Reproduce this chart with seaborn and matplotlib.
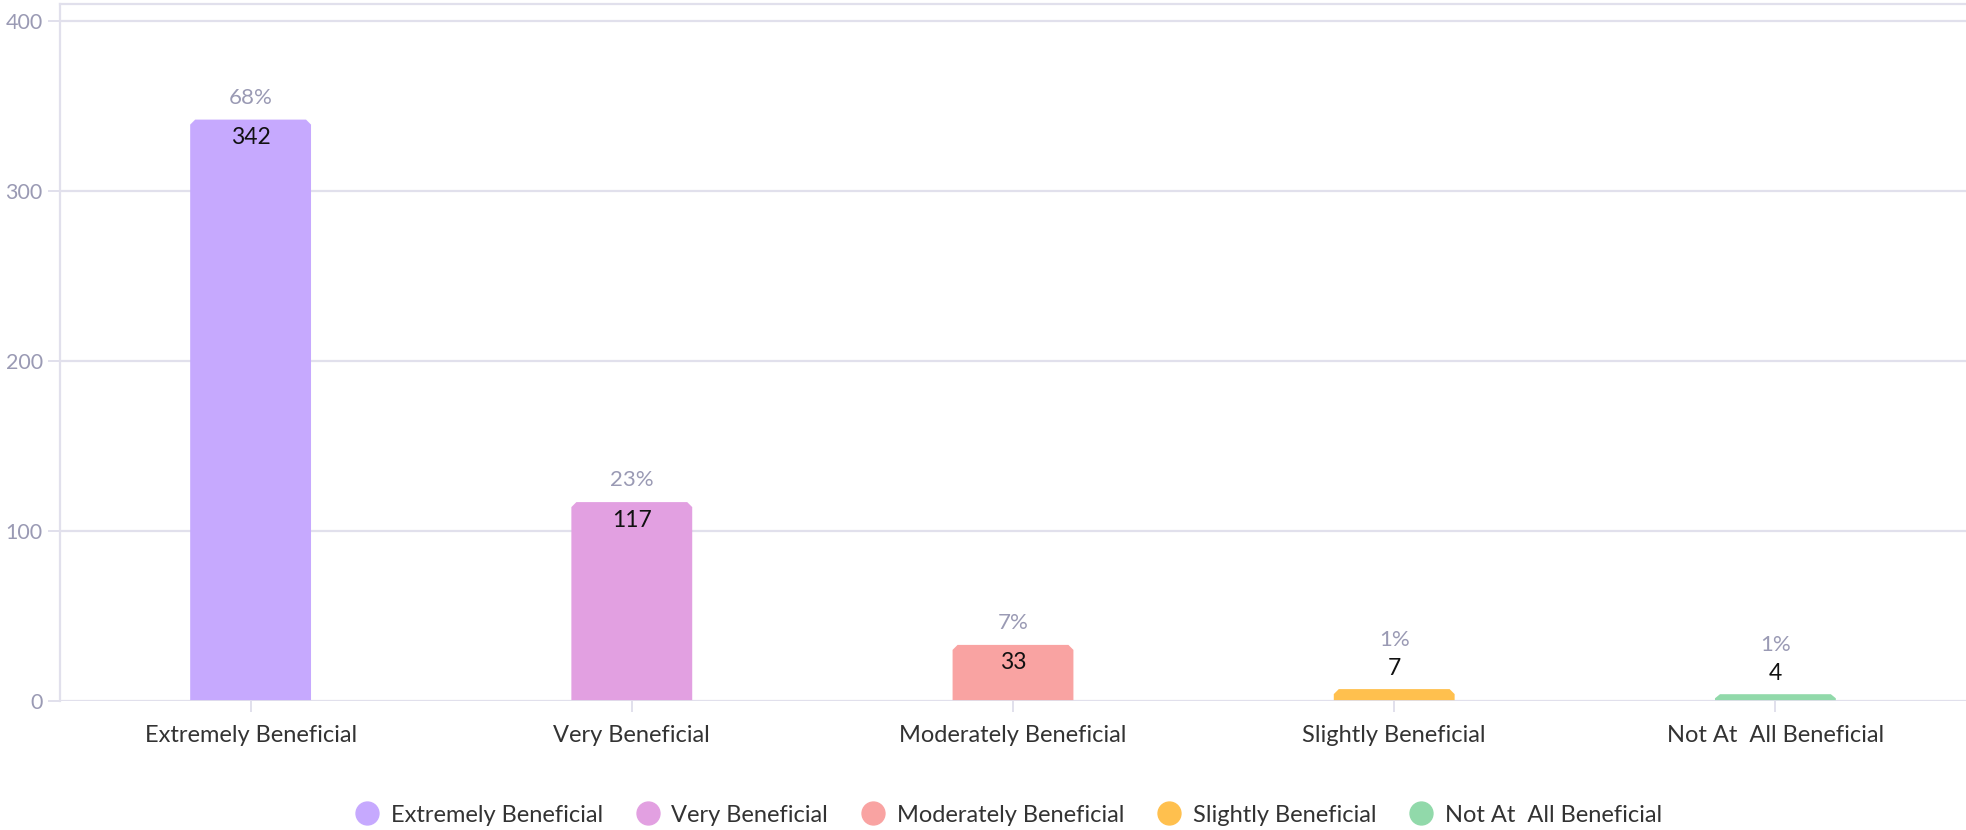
import matplotlib
matplotlib.use("Agg")
import matplotlib.pyplot as plt
from matplotlib.patches import Polygon
from matplotlib.lines import Line2D
import seaborn as sns
import pandas as pd

categories = ["Extremely Beneficial", "Very Beneficial", "Moderately Beneficial",
              "Slightly Beneficial", "Not At  All Beneficial"]
counts = [342, 117, 33, 7, 4]
percents = ["68%", "23%", "7%", "1%", "1%"]
colors = ["#C6A9FE", "#E2A0E1", "#F9A3A2", "#FFC04E", "#91D9AA"]
yticks = [0, 100, 200, 300, 400]

sns.set_theme(style="white")
plt.rcParams['font.family'] = ['Lato', 'DejaVu Sans']

GRID = "#E1E0EC"
GRAYTXT = "#9A9AB4"

fig = plt.figure(figsize=(19.66, 8.3), dpi=100)
W, H = 1966, 830
ax = fig.add_axes([60 / W, (H - 701) / H, (W - 60) / W, (701 - 4) / H])

df = pd.DataFrame({"cat": categories, "val": counts})
sns.barplot(data=df, x="cat", y="val", hue="cat", palette=colors, width=0.317,
            legend=False, ax=ax, saturation=1)

ax.set_ylim(0, 410)
ax.set_xlim(-0.5, len(categories) - 0.5)
ax.set_yticks(yticks)
ax.set_xlabel("")
ax.set_ylabel("")

# gridlines
ax.grid(axis="y", color=GRID, linewidth=1.6)
ax.set_axisbelow(True)
for s in ["right", "bottom"]:
    ax.spines[s].set_visible(False)
ax.spines["left"].set_color(GRID)
ax.spines["left"].set_linewidth(1.6)
ax.spines["top"].set_color(GRID)
ax.spines["top"].set_linewidth(1.6)
ax.axhline(0, color=GRID, linewidth=2, zorder=3)

ax.tick_params(axis="y", length=8.5, width=1.4, color=GRID, labelcolor=GRAYTXT,
               labelsize=15.5, pad=4, left=True)
ax.tick_params(axis="x", length=8, width=1.4, color=GRID, labelcolor="#333333",
               labelsize=17, pad=9, bottom=True)

fig.canvas.draw()
# pixel to data conversions
px_x = 1.0 / (ax.transData.transform((1, 0))[0] - ax.transData.transform((0, 0))[0])
px_y = 1.0 / (ax.transData.transform((0, 1))[1] - ax.transData.transform((0, 0))[1])

bars = [p for p in ax.patches]
for p in bars:
    x, y = p.get_x(), p.get_y()
    w, h = p.get_width(), p.get_height()
    if h <= 0:
        continue
    dx = 5 * px_x
    dy = min(5 * px_y, h * 0.6)
    poly = Polygon([(x, 0), (x, h - dy), (x + dx, h), (x + w - dx, h),
                    (x + w, h - dy), (x + w, 0)], closed=True,
                   facecolor=p.get_facecolor(), edgecolor="none", zorder=2)
    p.set_visible(False)
    ax.add_patch(poly)

for i, (v, pc) in enumerate(zip(counts, percents)):
    hpx = v / px_y
    if hpx > 30:
        voff, poff = -18, 22
    else:
        voff, poff = 21, 49
    ax.annotate(str(v), (i, v), xytext=(0, voff * 0.72), textcoords="offset points",
                ha="center", va="center", fontsize=16.5, color="#111111", zorder=5)
    ax.annotate(pc, (i, v), xytext=(0, poff * 0.72), textcoords="offset points",
                ha="center", va="center", fontsize=16, color=GRAYTXT, zorder=5)

handles = [Line2D([0], [0], marker="o", linestyle="none", markersize=16.5,
                  markerfacecolor=c, markeredgecolor=c) for c in colors]
fig.legend(handles, categories, loc="center", bbox_to_anchor=(0.51, 0.018),
           ncol=5, frameon=False, fontsize=17, handletextpad=0.0,
           columnspacing=0.9, labelcolor="#333333")

fig.savefig("out.png", dpi=100, facecolor="white")
